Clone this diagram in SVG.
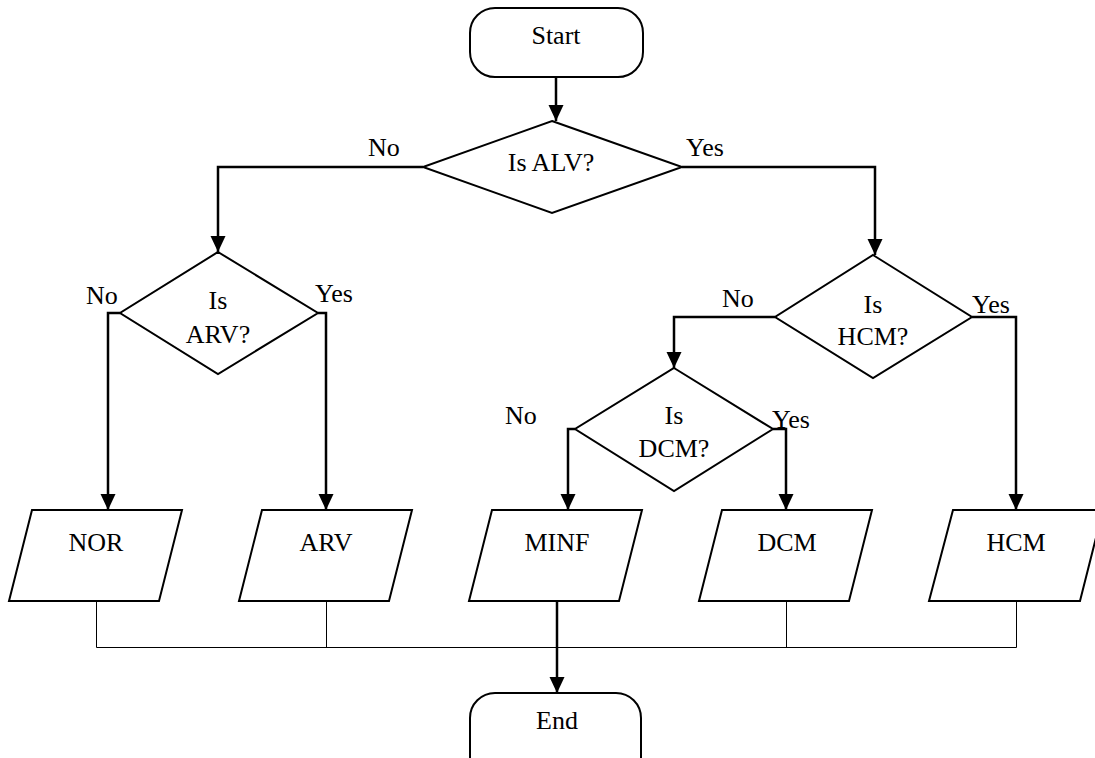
<svg xmlns="http://www.w3.org/2000/svg" width="1095" height="758" viewBox="0 0 1095 758">
<defs>
<style>
.shape{fill:#fff;stroke:#000;stroke-width:2}
.t{font-family:"Liberation Serif","Times New Roman",serif;font-size:26px;fill:#000}
.c{text-anchor:middle}
.thick{fill:none;stroke:#000;stroke-width:2.5}
.thin{fill:none;stroke:#000;stroke-width:1}
</style>
<marker id="arr" markerUnits="userSpaceOnUse" markerWidth="16" markerHeight="16" refX="16" refY="7.5" orient="auto">
<path d="M0,0 L16,7.5 L0,15 z" fill="#000"/>
</marker>
</defs>
<rect width="1095" height="758" fill="#fff"/>
<g id="connectors">
<path class="thick" d="M556,77 V121" marker-end="url(#arr)"/>
<path class="thick" d="M423,167 H218 V252" marker-end="url(#arr)"/>
<path class="thick" d="M682,167 H875 V255" marker-end="url(#arr)"/>
<path class="thick" d="M120,313 H108 V510" marker-end="url(#arr)"/>
<path class="thick" d="M318,313 H326 V510" marker-end="url(#arr)"/>
<path class="thick" d="M775,317 H674 V368" marker-end="url(#arr)"/>
<path class="thick" d="M972,317 H1016 V510" marker-end="url(#arr)"/>
<path class="thick" d="M575,429 H568 V510" marker-end="url(#arr)"/>
<path class="thick" d="M773,429 H786 V510" marker-end="url(#arr)"/>
<path class="thin" d="M96.5,601 V647.5 H1016.5 V601"/>
<path class="thin" d="M326.5,601 V647.5"/>
<path class="thin" d="M786.5,601 V647.5"/>
<path class="thick" d="M557,601 V693" marker-end="url(#arr)"/>
</g>
<g id="start">
<rect class="shape" x="470" y="8" width="173" height="69" rx="25"/>
<text class="t c" x="556" y="44">Start</text>
</g>
<g id="isALV">
<polygon class="shape" points="552,121 682,167 552,213 423,167"/>
<text class="t c" x="551" y="171">Is ALV?</text>
<text class="t" x="368" y="156">No</text>
<text class="t" x="686" y="156">Yes</text>
</g>
<g id="isARV">
<polygon class="shape" points="218,252 318,313 218,374 120,313"/>
<text class="t c" x="218" y="309">Is</text>
<text class="t c" x="218" y="343">ARV?</text>
<text class="t" x="86" y="304">No</text>
<text class="t" x="315" y="302">Yes</text>
</g>
<g id="isHCM">
<polygon class="shape" points="873,255 972,317 873,378 775,317"/>
<text class="t c" x="873" y="313">Is</text>
<text class="t c" x="873" y="345">HCM?</text>
<text class="t" x="722" y="307">No</text>
<text class="t" x="972" y="313">Yes</text>
</g>
<g id="isDCM">
<polygon class="shape" points="674,368 773,429 674,491 575,429"/>
<text class="t c" x="674" y="424">Is</text>
<text class="t c" x="674" y="457">DCM?</text>
<text class="t" x="505" y="424">No</text>
<text class="t" x="772" y="428">Yes</text>
</g>
<g id="nor">
<polygon class="shape" points="32,510 182,510 159,601 9,601"/>
<text class="t c" x="96" y="551">NOR</text>
</g>
<g id="arv">
<polygon class="shape" points="262,510 412,510 389,601 239,601"/>
<text class="t c" x="326" y="551">ARV</text>
</g>
<g id="minf">
<polygon class="shape" points="492,510 642,510 619,601 469,601"/>
<text class="t c" x="557" y="551">MINF</text>
</g>
<g id="dcm">
<polygon class="shape" points="722,510 872,510 849,601 699,601"/>
<text class="t c" x="787" y="551">DCM</text>
</g>
<g id="hcm">
<polygon class="shape" points="953,510 1103,510 1080,601 929,601"/>
<text class="t c" x="1016" y="551">HCM</text>
</g>
<g id="end">
<rect class="shape" x="470" y="693" width="171" height="90" rx="25"/>
<text class="t c" x="557" y="729">End</text>
</g>
</svg>
